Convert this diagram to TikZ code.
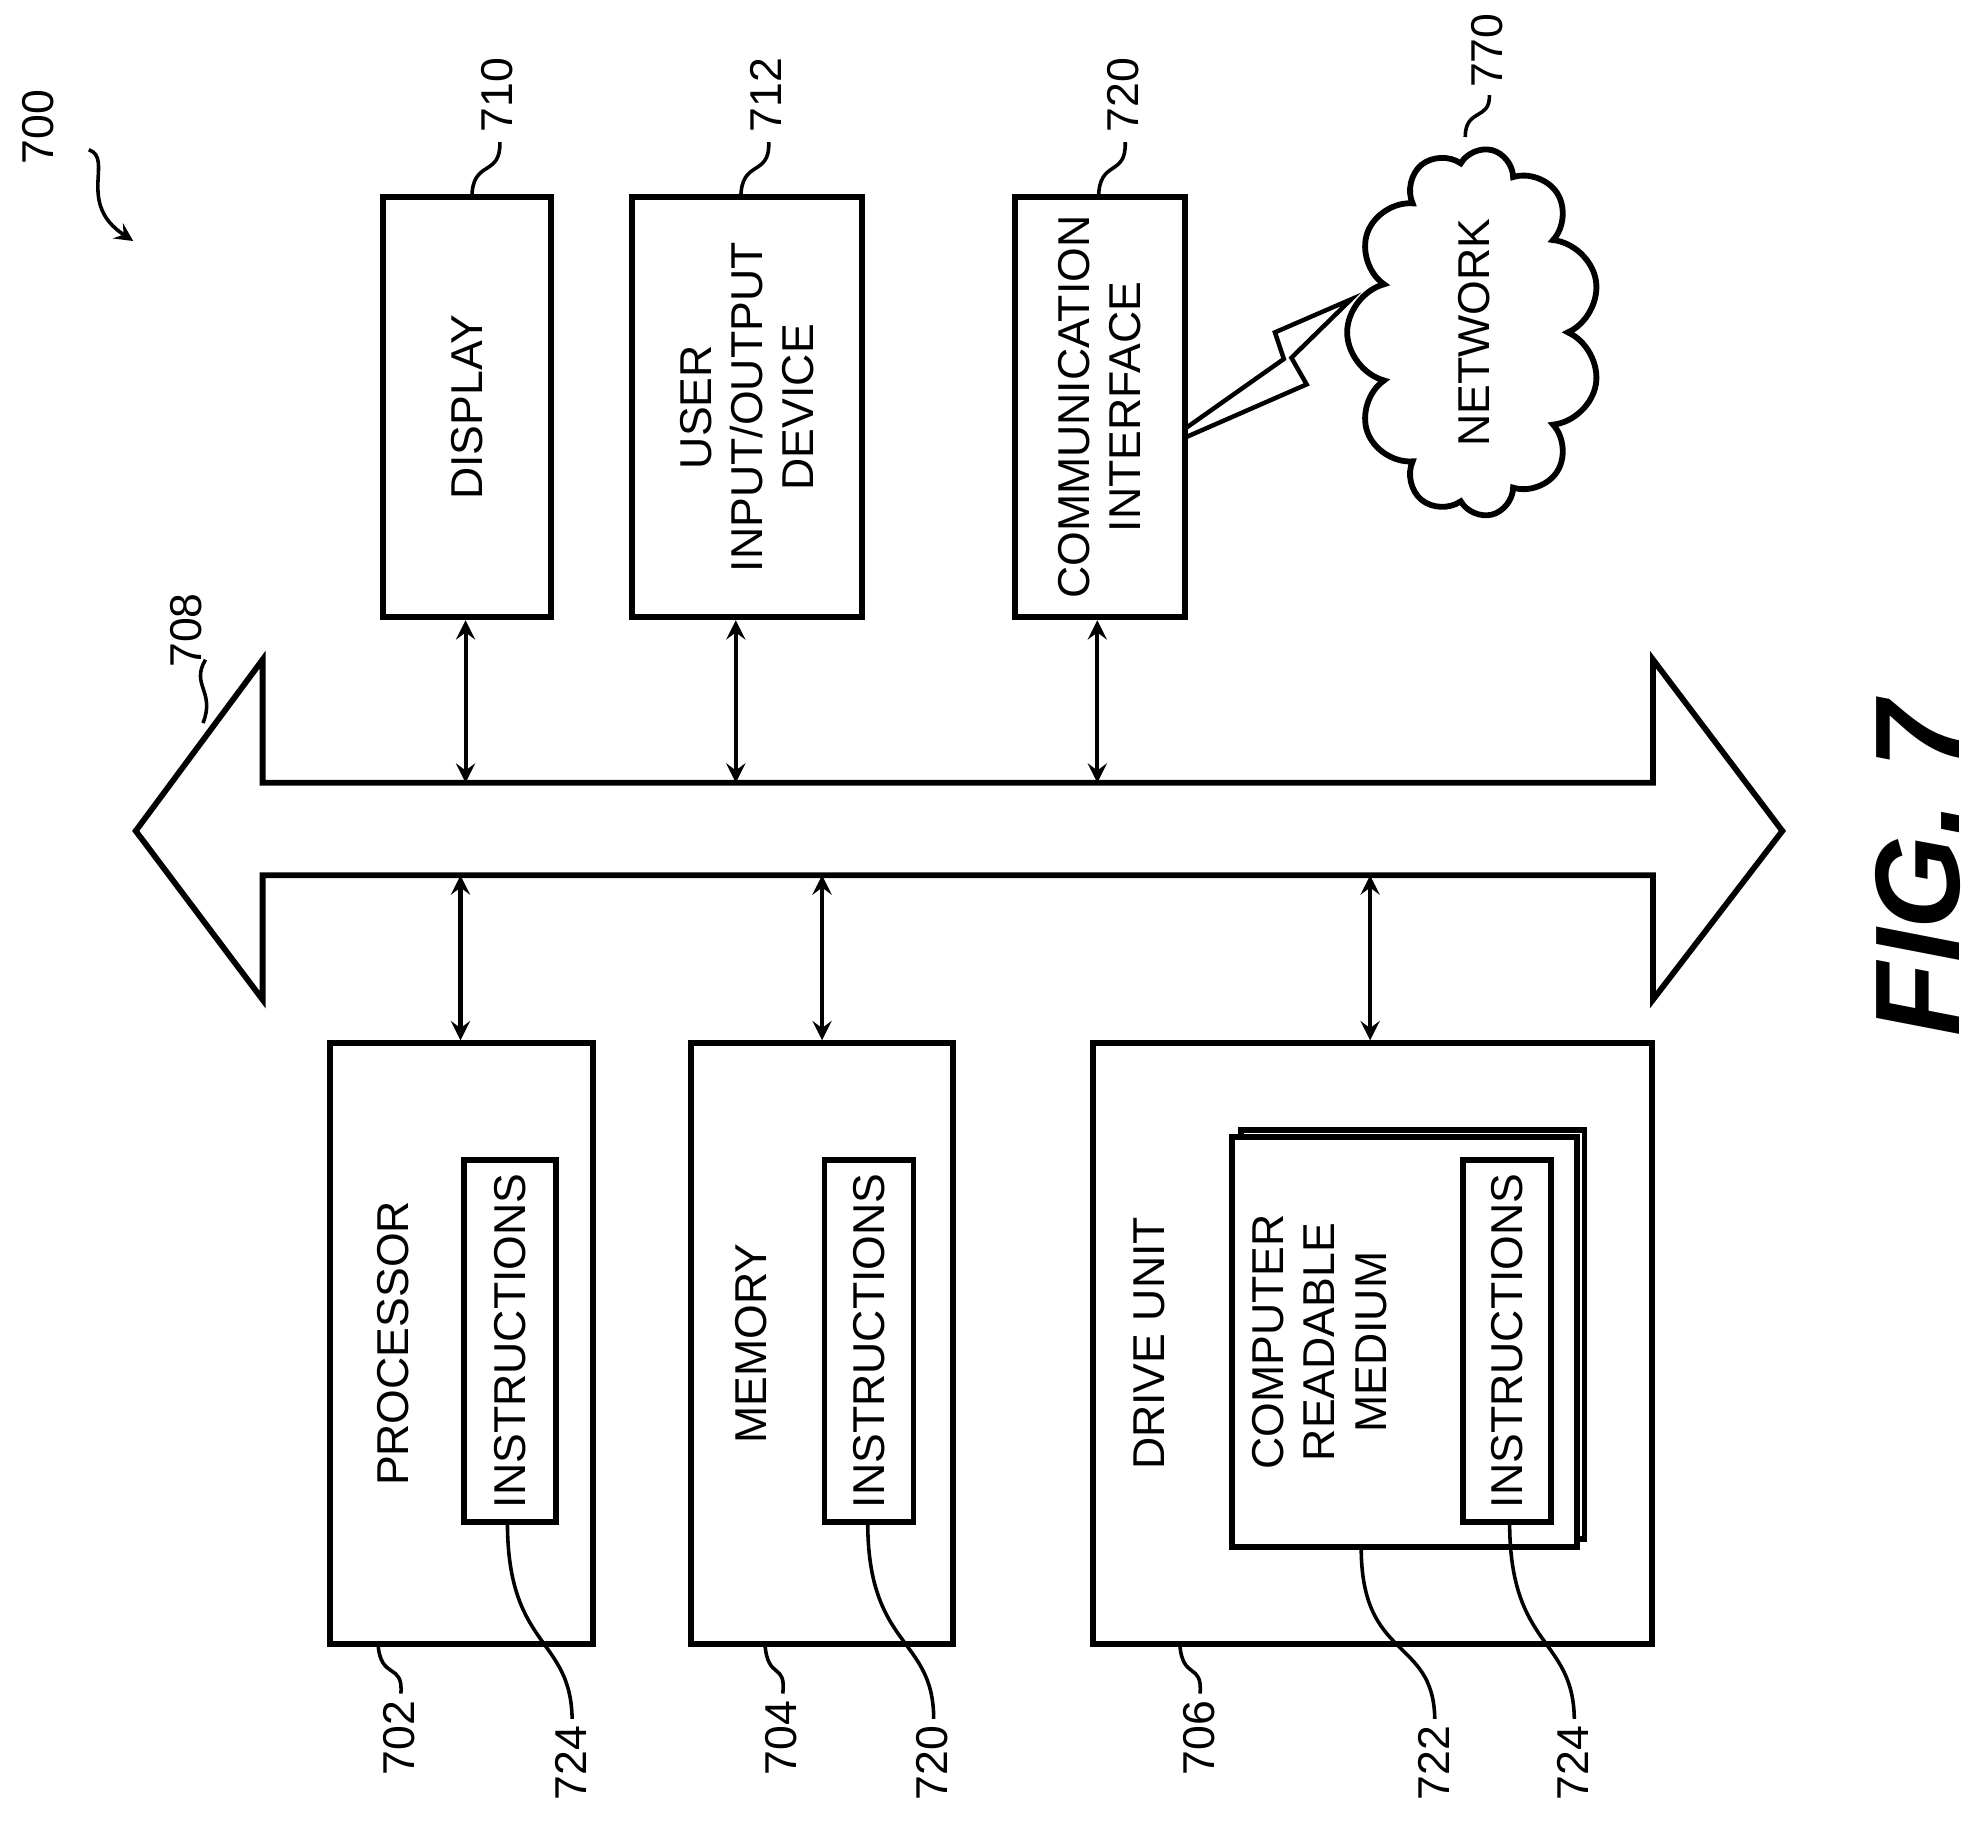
\documentclass[tikz,border=0pt]{standalone}
\usepackage{fontspec}
\setmainfont{Liberation Sans}
\usetikzlibrary{shapes.symbols}

\begin{document}
\begin{tikzpicture}[x=0.01cm, y=-0.01cm,
    box/.style = {draw, line width=1.3pt, inner sep=0pt},
    lbl/.style = {rotate=90, font=\fontsize{10}{11.5}\selectfont, align=center},
    num/.style = {rotate=90, font=\fontsize{10}{11}\selectfont, inner sep=1pt},
    lead/.style = {line width=0.8pt},
    link/.style = {line width=0.9pt, <->, >=stealth}]
    \useasboundingbox (0,0) rectangle (1560,1440);

    % top devices
    \node[box, minimum width=1.32cm, minimum height=3.31cm] (disp) at (368,321) {};
    \node[lbl] at (disp) {DISPLAY};
    \node[box, minimum width=1.81cm, minimum height=3.31cm] (uio) at (589,321) {};
    \node[lbl] at (uio) {USER\\INPUT/OUTPUT\\DEVICE};
    \node[box, minimum width=1.34cm, minimum height=3.31cm] (comm) at (867,321) {};
    \node[lbl] at (comm) {COMMUNICATION\\INTERFACE};
    \node[cloud, draw, line width=1.3pt, cloud puffs=11, rotate=90,
          minimum width=2.9cm, minimum height=2.0cm] (net) at (1162,262) {};
    \node[lbl] at (net) {NETWORK};
    \draw[line width=1pt] (934,345) -- (1030,303) -- (1018,282) -- (1065,236)
        -- (1005,262) -- (1012,283) -- (934,338);

    % bus
    \draw[line width=1.3pt] (207,617) -- (207,520) -- (107,655) -- (207,788) -- (207,690)
        -- (1303,690) -- (1303,788) -- (1405,655) -- (1303,520) -- (1303,617) -- cycle;
    \coordinate (t1) at (367,617);
    \coordinate (t2) at (580,617);
    \coordinate (t3) at (865,617);
    \coordinate (u1) at (363,690);
    \coordinate (u2) at (648,690);
    \coordinate (u3) at (1080,690);

    % bottom units
    \node[box, minimum width=2.07cm, minimum height=4.73cm] (proc) at (364,1059) {};
    \node[box, minimum width=0.72cm, minimum height=2.85cm] (pins) at (402,1057) {};
    \node[lbl, anchor=center] at (310,1059) {PROCESSOR};
    \node[lbl] at (pins) {INSTRUCTIONS};
    \node[box, minimum width=2.06cm, minimum height=4.73cm] (mem) at (648,1059) {};
    \node[box, minimum width=0.70cm, minimum height=2.85cm] (mins) at (685,1057) {};
    \node[lbl] at (592,1059) {MEMORY};
    \node[lbl] at (mins) {INSTRUCTIONS};
    \node[box, minimum width=4.40cm, minimum height=4.73cm] (drive) at (1082,1059) {};
    \node[lbl] at (906,1059) {DRIVE UNIT};
    \node[box, minimum width=2.72cm, minimum height=3.23cm] (crm) at (1107,1058) {};
    \draw[line width=1.3pt] (978,897) -- (978,891) -- (1249,891) -- (1249,1213) -- (1243,1213);
    \node[lbl] at (1040,1058) {COMPUTER\\READABLE\\MEDIUM};
    \node[box, minimum width=0.69cm, minimum height=2.85cm] (dins) at (1188,1057) {};
    \node[lbl] at (dins) {INSTRUCTIONS};

    % bus links
    \draw[link] (disp.south -| t1) -- (t1);
    \draw[link] (uio.south -| t2) -- (t2);
    \draw[link] (comm.south -| t3) -- (t3);
    \draw[link] (u1) -- (proc.north -| u1);
    \draw[link] (u2) -- (mem.north -| u2);
    \draw[link] (u3) -- (drive.north -| u3);

    % reference numerals
    \node[num] (n700) at (30,100) {700};
    \draw[lead, ->, >=stealth] (70,118) .. controls (90,125) and (60,160) .. (105,190);
    \node[num] (n708) at (147,497) {708};
    \draw[lead] (160,570) .. controls (170,545) and (150,540) .. (162,520);
    \node[num] (n710) at (392,75) {710};
    \draw[lead] (372,156) .. controls (372,125) and (395,140) .. (394,112);
    \node[num] (n712) at (604,75) {712};
    \draw[lead] (584,156) .. controls (584,125) and (607,140) .. (606,112);
    \node[num] (n720a) at (885,75) {720};
    \draw[lead] (866,156) .. controls (866,125) and (888,140) .. (887,112);
    \node[num] (n770) at (1172,40) {770};
    \draw[lead] (1155,108) .. controls (1155,85) and (1175,95) .. (1174,75);
    \node[num] (n702) at (315,1370) {702};
    \draw[lead] (298,1296) .. controls (300,1325) and (318,1310) .. (316,1335);
    \node[num] (n724a) at (450,1390) {724};
    \draw[lead] (400,1200) .. controls (400,1300) and (450,1290) .. (451,1355);
    \node[num] (n704) at (616,1370) {704};
    \draw[lead] (603,1296) .. controls (605,1325) and (620,1310) .. (617,1335);
    \node[num] (n720b) at (735,1390) {720};
    \draw[lead] (684,1200) .. controls (684,1300) and (736,1290) .. (736,1355);
    \node[num] (n706) at (945,1370) {706};
    \draw[lead] (930,1296) .. controls (932,1325) and (948,1310) .. (946,1335);
    \node[num] (n722) at (1130,1390) {722};
    \draw[lead] (1073,1220) .. controls (1073,1310) and (1130,1290) .. (1131,1355);
    \node[num] (n724b) at (1240,1390) {724};
    \draw[lead] (1190,1200) .. controls (1190,1300) and (1240,1290) .. (1241,1355);

    \node[rotate=90, font=\fontsize{27}{30}\selectfont\bfseries\itshape] (fig) at (1512,685) {FIG. 7};
\end{tikzpicture}
\end{document}
